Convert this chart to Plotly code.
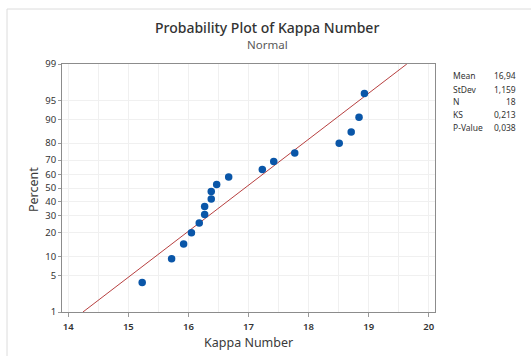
import plotly.graph_objects as go
from statistics import NormalDist

# Kappa Number observations (sorted) and their plotting positions (percent)
kappa = [15.23, 15.72, 15.92, 16.05, 16.18, 16.27, 16.27, 16.38, 16.38,
         16.47, 16.67, 17.23, 17.42, 17.77, 18.51, 18.71, 18.84, 18.93]
percent = [3.8, 9.2, 14.7, 20.1, 25.5, 31.0, 36.4, 41.8, 47.3,
           52.7, 58.2, 63.6, 69.0, 74.5, 79.9, 85.3, 90.8, 96.2]

# Fitted normal parameters and goodness-of-fit summary
mean_fit = 16.94
sd_fit = 1.159
stat_labels = ["Mean", "StDev", "N", "KS", "P-Value"]
stat_values = ["16,94", "1,159", "18", "0,213", "0,038"]

# Probability axis ticks
y_ticks = [1, 5, 10, 20, 30, 40, 50, 60, 70, 80, 90, 95, 99]
x_ticks = [14, 15, 16, 17, 18, 19, 20]

nd = NormalDist()
def z(p):
    return nd.inv_cdf(p / 100.0)

zmin, zmax = z(1), z(99)

FONT = "Noto Sans, Open Sans, sans-serif"
W, H = 531, 356
L, R, T, B = 62, 96, 64, 44
pw, ph = W - L - R, H - T - B

def px(x):
    return (x - L) / pw

def py(y):
    return (H - B - y) / ph

fig = go.Figure()

# Fitted normal line across the full probability range
fig.add_trace(go.Scatter(
    x=[mean_fit + sd_fit * zmin, mean_fit + sd_fit * zmax],
    y=[zmin, zmax],
    mode="lines",
    line=dict(color="rgba(170,30,30,0.85)", width=1),
    hoverinfo="skip",
    showlegend=False,
))

# Observations
fig.add_trace(go.Scatter(
    x=kappa,
    y=[z(p) for p in percent],
    mode="markers",
    marker=dict(color="#0a56a8", size=7.5),
    showlegend=False,
))

def note(text, x, y, size, color="#333333", xanchor="center", **kw):
    return dict(text=text, x=px(x), y=py(y), xref="paper", yref="paper",
                xanchor=xanchor, yanchor="middle", showarrow=False, borderpad=0,
                font=dict(family=FONT, size=size, color=color, **kw.pop("fkw", {})), **kw)

annotations = [
    note("Probability Plot of Kappa Number", 267, 28, 14, "#333333", fkw=dict(weight=500)),
    note("Normal", 267, 45, 11.5, "#595959"),
    note("Kappa Number", 248, 342, 12.5, "#3a3a3a"),
    note("Percent", 33, 190, 12.5, "#3a3a3a", textangle=-90),
]
rows_y = [76, 89, 101, 114, 127]
for lab, val, ry in zip(stat_labels, stat_values, rows_y):
    annotations.append(note(lab, 452, ry, 8.5, xanchor="left"))
    annotations.append(note(val, 517, ry, 8.5, xanchor="right"))

# Outer panel frame (left and top edges)
shapes = [
    dict(type="line", xref="paper", yref="paper", x0=px(7), x1=px(7), y0=py(9), y1=py(400),
         line=dict(color="#dcdcdc", width=1)),
    dict(type="line", xref="paper", yref="paper", x0=px(7), x1=px(560), y0=py(9), y1=py(9),
         line=dict(color="#dcdcdc", width=1)),
]

fig.update_layout(
    width=W, height=H,
    margin=dict(l=L, r=R, t=T, b=B, autoexpand=False),
    paper_bgcolor="white", plot_bgcolor="white",
    annotations=annotations,
    shapes=shapes,
    font=dict(family=FONT, color="#333333"),
    xaxis=dict(
        range=[13.895, 20.105],
        tickvals=x_ticks,
        ticktext=[str(v) for v in x_ticks],
        ticks="outside", ticklen=4, tickcolor="#9a9a9a",
        ticklabelstandoff=2,
        tickfont=dict(family=FONT, size=9.5, color="#333333", weight=600),
        showgrid=True, gridcolor="#f0f0f0", gridwidth=1,
        minor=dict(dtick=0.5, tick0=14, showgrid=True, gridcolor="#f0f0f0"),
        showline=True, linecolor="#8c8c8c", linewidth=1, mirror=True,
        zeroline=False, automargin=False,
    ),
    yaxis=dict(
        range=[zmin, zmax],
        tickvals=[z(p) for p in y_ticks],
        ticktext=[str(p) for p in y_ticks],
        ticks="outside", ticklen=3, tickcolor="#9a9a9a",
        tickfont=dict(family=FONT, size=9.5, color="#333333"),
        showgrid=True, gridcolor="#f0f0f0", gridwidth=1,
        showline=True, linecolor="#8c8c8c", linewidth=1, mirror=True,
        zeroline=False, automargin=False,
    ),
)

fig.write_html("out.html")
